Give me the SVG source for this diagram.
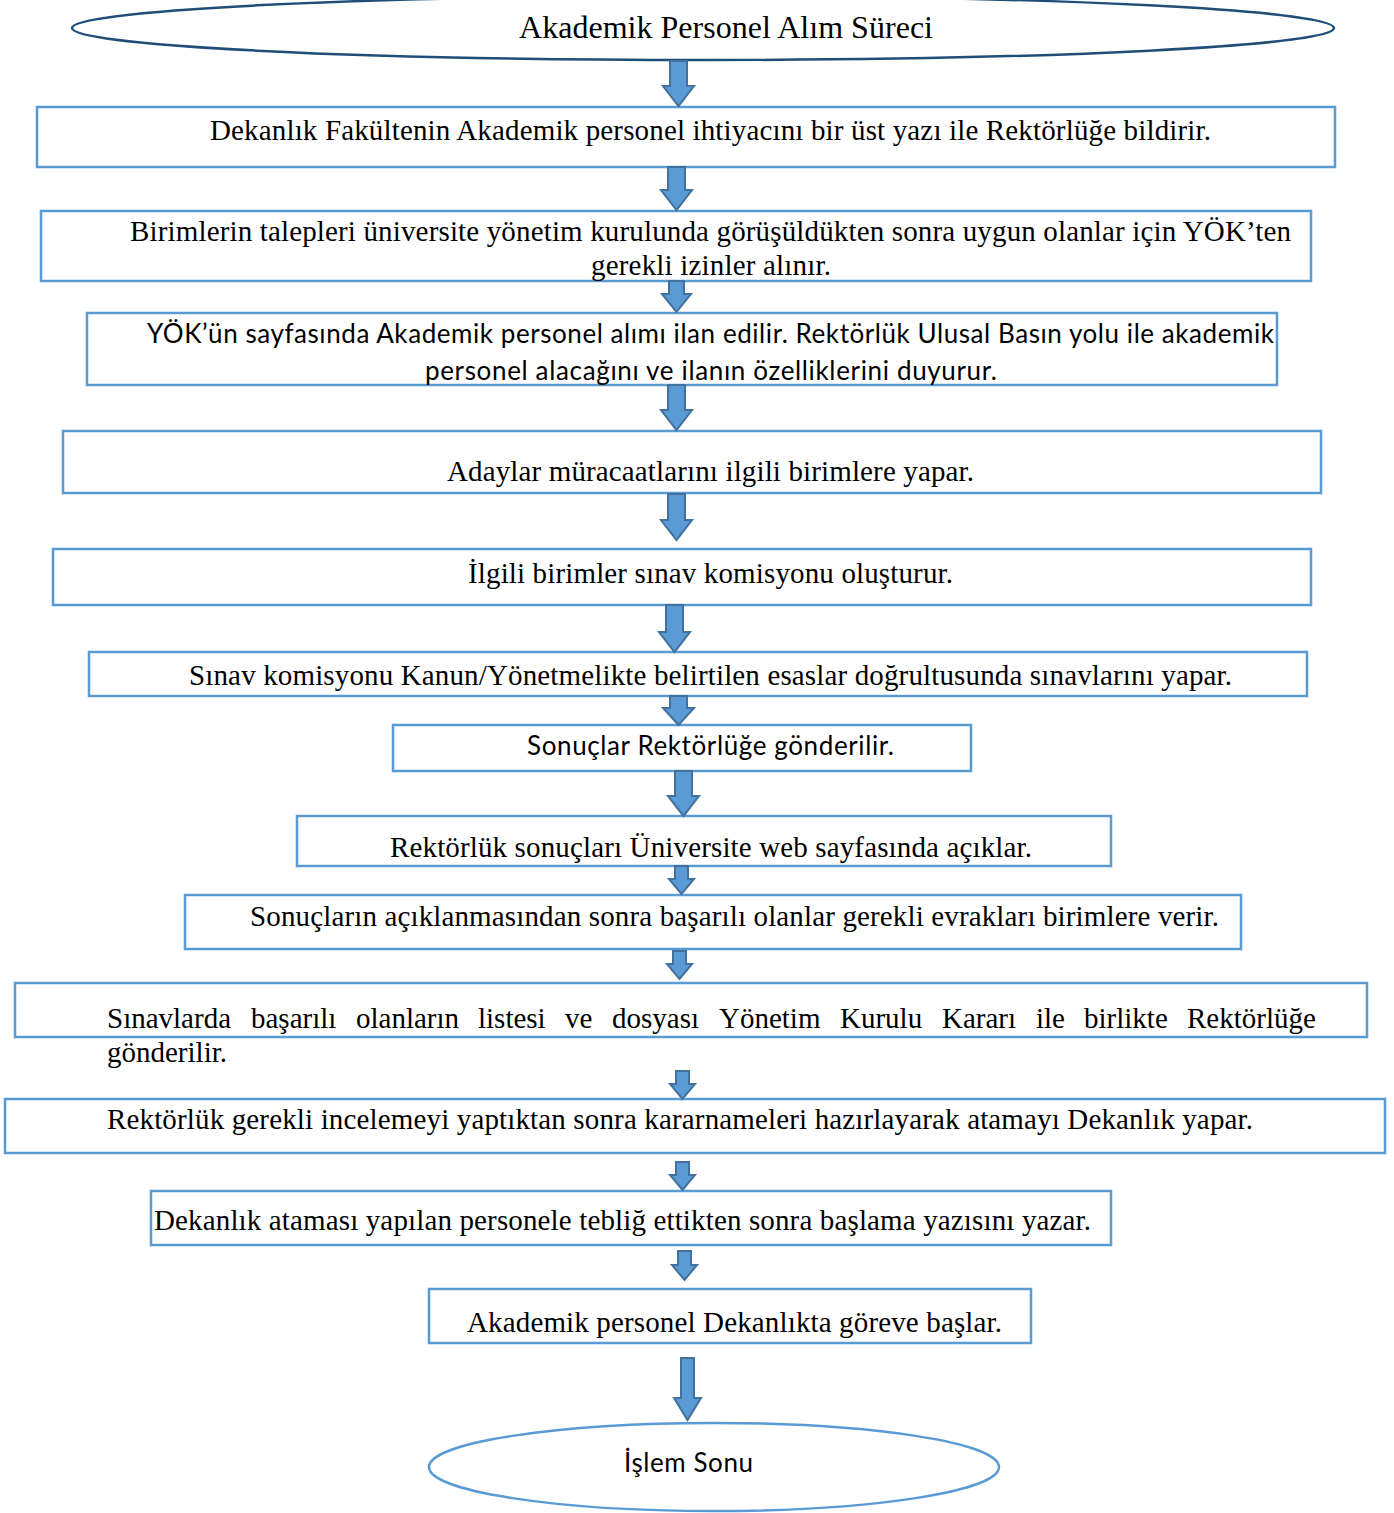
<svg xmlns="http://www.w3.org/2000/svg" width="1394" height="1513" viewBox="0 0 1394 1513">
<style>
.box{fill:#fff;stroke:#5B9BD5;stroke-width:2.5}
.arr{fill:#5B9BD5;stroke:#41719C;stroke-width:2;stroke-linejoin:miter}
.s{font-family:"Liberation Serif","Times New Roman",serif;font-size:29px;fill:#000}
.n{font-family:Lato,"Liberation Sans",sans-serif;font-size:26px;fill:#000}
.t{font-size:32px}
</style>
<rect width="1394" height="1513" fill="#fff"/>
<g id="start">
<ellipse cx="703" cy="28" rx="631" ry="32" fill="#fff" stroke="#1F4E79" stroke-width="2.5"/>
<text class="s t" x="519" y="38" textLength="414">Akademik Personel Alım Süreci</text>
</g>
<g id="n1"><rect class="box" x="37" y="107" width="1298" height="60"/>
<text class="s" x="210" y="140" textLength="1001">Dekanlık Fakültenin Akademik personel ihtiyacını bir üst yazı ile Rektörlüğe bildirir.</text></g>
<g id="n2"><rect class="box" x="41" y="211" width="1270" height="70"/>
<text class="s" x="130" y="241" textLength="1161">Birimlerin talepleri üniversite yönetim kurulunda görüşüldükten sonra uygun olanlar için YÖK’ten</text>
<text class="s" x="591" y="275" textLength="240">gerekli izinler alınır.</text></g>
<g id="n3"><rect class="box" x="87" y="313" width="1190" height="72"/>
<text class="n" x="147" y="343" textLength="1127">YÖK’ün sayfasında Akademik personel alımı ilan edilir. Rektörlük Ulusal Basın yolu ile akademik</text>
<text class="n" x="425" y="380" textLength="572">personel alacağını ve ilanın özelliklerini duyurur.</text></g>
<g id="n4"><rect class="box" x="63" y="431" width="1258" height="62"/>
<text class="s" x="447" y="481" textLength="527">Adaylar müracaatlarını ilgili birimlere yapar.</text></g>
<g id="n5"><rect class="box" x="53" y="549" width="1258" height="56"/>
<text class="s" x="468" y="583" textLength="485">İlgili birimler sınav komisyonu oluşturur.</text></g>
<g id="n6"><rect class="box" x="89" y="652" width="1218" height="44"/>
<text class="s" x="189" y="685" textLength="1043">Sınav komisyonu Kanun/Yönetmelikte belirtilen esaslar doğrultusunda sınavlarını yapar.</text></g>
<g id="n7"><rect class="box" x="393" y="725" width="578" height="46"/>
<text class="n" x="527" y="755" textLength="367">Sonuçlar Rektörlüğe gönderilir.</text></g>
<g id="n8"><rect class="box" x="297" y="816" width="814" height="50"/>
<text class="s" x="390" y="857" textLength="642">Rektörlük sonuçları Üniversite web sayfasında açıklar.</text></g>
<g id="n9"><rect class="box" x="185" y="895" width="1056" height="54"/>
<text class="s" x="250" y="926" textLength="969">Sonuçların açıklanmasından sonra başarılı olanlar gerekli evrakları birimlere verir.</text></g>
<g id="n10"><rect class="box" x="15" y="983" width="1352" height="54"/>
<text class="s" y="1028"><tspan x="107">Sınavlarda</tspan> <tspan x="251">başarılı</tspan> <tspan x="356">olanların</tspan> <tspan x="478">listesi</tspan> <tspan x="565">ve</tspan> <tspan x="612">dosyası</tspan> <tspan x="719">Yönetim</tspan> <tspan x="840">Kurulu</tspan> <tspan x="942">Kararı</tspan> <tspan x="1036">ile</tspan> <tspan x="1084">birlikte</tspan> <tspan x="1187">Rektörlüğe</tspan></text>
<text class="s" x="107" y="1062">gönderilir.</text></g>
<g id="n11"><rect class="box" x="5" y="1099" width="1380" height="54"/>
<text class="s" x="107" y="1129" textLength="1146">Rektörlük gerekli incelemeyi yaptıktan sonra kararnameleri hazırlayarak atamayı Dekanlık yapar.</text></g>
<g id="n12"><rect class="box" x="151" y="1191" width="960" height="54"/>
<text class="s" x="154" y="1230" textLength="937">Dekanlık ataması yapılan personele tebliğ ettikten sonra başlama yazısını yazar.</text></g>
<g id="n13"><rect class="box" x="429" y="1289" width="602" height="54"/>
<text class="s" x="467" y="1332" textLength="535">Akademik personel Dekanlıkta göreve başlar.</text></g>
<g id="end">
<ellipse cx="714" cy="1467" rx="285" ry="44" fill="#fff" stroke="#5B9BD5" stroke-width="2.5"/>
<text class="n" x="624" y="1472" textLength="129">İşlem Sonu</text>
</g>
<g id="connectors">
<path class="arr" d="M670,61 H687 V86 H694 L678.5,106 L663,86 H670 Z"/>
<path class="arr" d="M668,167 H685 V190 H692 L676.5,210 L661,190 H668 Z"/>
<path class="arr" d="M669,281 H684 V294 H691 L676.5,312 L662,294 H669 Z"/>
<path class="arr" d="M668,385 H685 V410 H692 L676.5,430 L661,410 H668 Z"/>
<path class="arr" d="M668,494 H685 V520 H692 L676.5,540 L661,520 H668 Z"/>
<path class="arr" d="M666,605 H683 V632 H690 L674.5,652 L659,632 H666 Z"/>
<path class="arr" d="M670,696 H687 V708 H694 L678.5,725 L663,708 H670 Z"/>
<path class="arr" d="M675,771 H692 V796 H699 L683.5,816 L668,796 H675 Z"/>
<path class="arr" d="M675,866 H688 V879 H694 L681.5,894 L669,879 H675 Z"/>
<path class="arr" d="M673,951 H686 V964 H692 L679.5,979 L667,964 H673 Z"/>
<path class="arr" d="M676,1071 H689 V1084 H695 L682.5,1099 L670,1084 H676 Z"/>
<path class="arr" d="M676,1162 H689 V1175 H695 L682.5,1190 L670,1175 H676 Z"/>
<path class="arr" d="M678,1251 H691 V1265 H697 L684.5,1280 L672,1265 H678 Z"/>
<path class="arr" d="M681,1358 H694 V1398 H701 L687.5,1420 L674,1398 H681 Z"/>
</g>
</svg>
